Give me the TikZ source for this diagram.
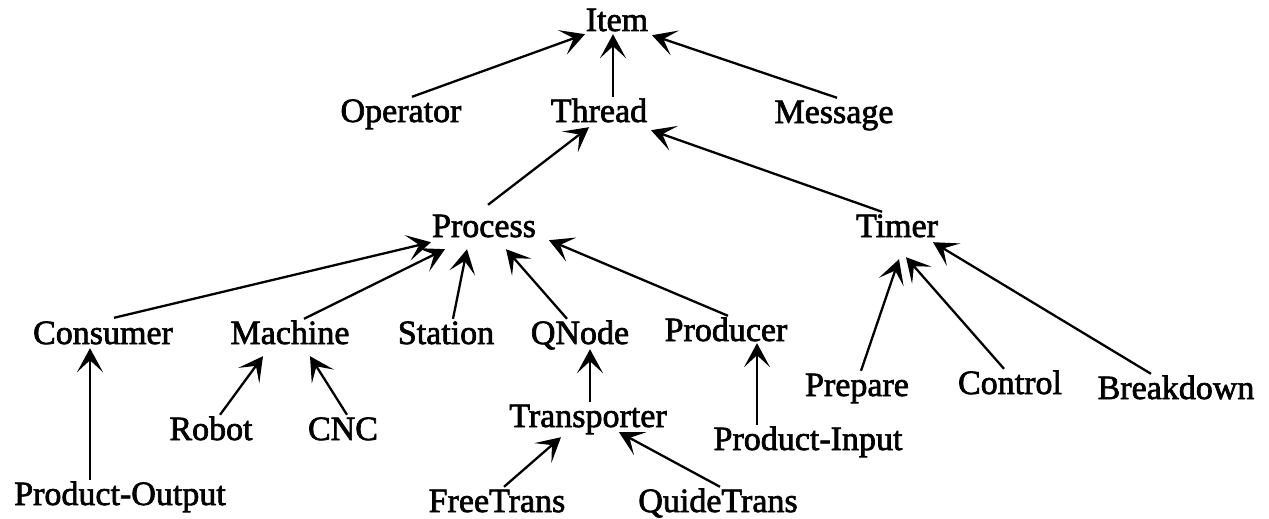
\documentclass[tikz,border=0pt]{standalone}
\usepackage{fontspec}
\setmainfont{Liberation Serif}
\newfontfamily\lblfont{Liberation Serif}[FakeBold=2]
\usetikzlibrary{arrows.meta}
\begin{document}
\begin{tikzpicture}[x=1pt,y=-1pt,
  lbl/.style={font=\lblfont\fontsize{34}{36}\selectfont, inner sep=0pt, anchor=base, text height=22pt, text depth=0pt},
  arr/.style={line width=2.3pt, -{Stealth[length=24pt,width=26pt,inset=12pt]}}]
\useasboundingbox (0,0) rectangle (1269,519);
\node[lbl] (item) at (617,31) {Item};
\node[lbl] (operator) at (401,122) {Operator};
\node[lbl] (thread) at (599,122) {Thread};
\node[lbl] (message) at (834,123) {Message};
\node[lbl] (process) at (484,237) {Process};
\node[lbl] (timer) at (897,237) {Timer};
\node[lbl] (consumer) at (103,344) {Consumer};
\node[lbl] (machine) at (290,344) {Machine};
\node[lbl] (station) at (446,344) {Station};
\node[lbl] (qnode) at (580,344) {QNode};
\node[lbl] (producer) at (726,341) {Producer};
\node[lbl] (robot) at (211,440) {Robot};
\node[lbl] (cnc) at (343,440) {CNC};
\node[lbl] (transporter) at (588,427) {Transporter};
\node[lbl] (pinput) at (808,450) {Product-Input};
\node[lbl] (prepare) at (857,396) {Prepare};
\node[lbl] (control) at (1010,394) {Control};
\node[lbl] (breakdown) at (1176,399) {Breakdown};
\node[lbl] (poutput) at (120,505) {Product-Output};
\node[lbl] (freetrans) at (497,512) {FreeTrans};
\node[lbl] (quidetrans) at (718,512) {QuideTrans};

\draw[arr] ([shift={(11,-3)}]operator.north) -- ([shift={(-32,3)}]item.south);
\draw[arr] ([shift={(14,-3)}]thread.north) -- ([shift={(-4,3)}]item.south);
\draw[arr] ([shift={(3,-3)}]message.north) -- ([shift={(35,4)}]item.south);
\draw[arr] ([shift={(4,-10)}]process.north) -- ([shift={(-10,5)}]thread.south);
\draw[arr] ([shift={(-15,-3)}]timer.north) -- ([shift={(52,8)}]thread.south);
\draw[arr] ([shift={(11,-4)}]consumer.north) -- ([shift={(-53,5)}]process.south);
\draw[arr] ([shift={(14,-3)}]machine.north) -- ([shift={(-39,12)}]process.south);
\draw[arr] ([shift={(7,-3)}]station.north) -- ([shift={(-17,12)}]process.south);
\draw[arr] ([shift={(-13,-3)}]qnode.north) -- ([shift={(22,12)}]process.south);
\draw[arr] ([shift={(2,-3)}]producer.north) -- ([shift={(65,3)}]process.south);
\draw[arr] ([shift={(-30,-3)}]poutput.north) -- ([shift={(-13,4)}]consumer.south);
\draw[arr] ([shift={(9,-3)}]robot.north) -- ([shift={(-27,12)}]machine.south);
\draw[arr] ([shift={(4,-3)}]cnc.north) -- ([shift={(20,12)}]machine.south);
\draw[arr] ([shift={(2,-3)}]transporter.north) -- ([shift={(10,5)}]qnode.south);
\draw[arr] ([shift={(-51,-3)}]pinput.north) -- ([shift={(31,2)}]producer.south);
\draw[arr] ([shift={(7,-3)}]freetrans.north) -- ([shift={(-27,10)}]transporter.south);
\draw[arr] ([shift={(2,-3)}]quidetrans.north) -- ([shift={(31,5)}]transporter.south);
\draw[arr] ([shift={(4,-3)}]prepare.north) -- ([shift={(2,22)}]timer.south);
\draw[arr] ([shift={(-6,-3)}]control.north) -- ([shift={(9,20)}]timer.south);
\draw[arr] ([shift={(-25,-3)}]breakdown.north) -- ([shift={(36,5)}]timer.south);
\end{tikzpicture}
\end{document}
